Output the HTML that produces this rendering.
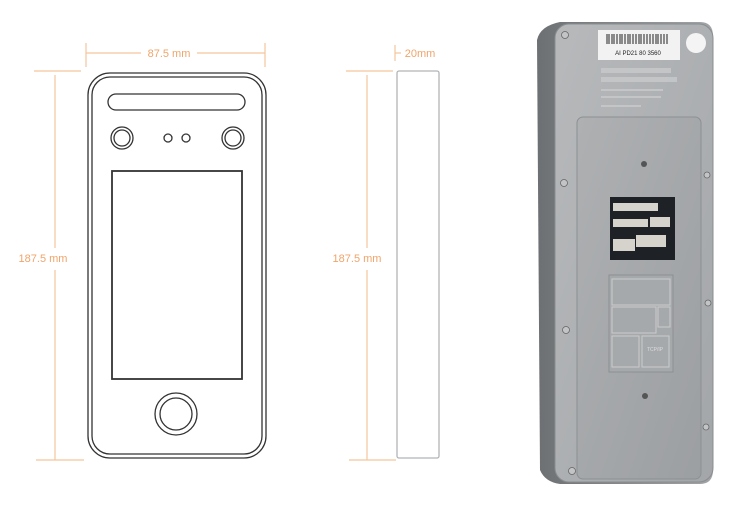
<!DOCTYPE html>
<html><head><meta charset="utf-8"><style>
html,body{margin:0;padding:0;background:#fff;}
svg{display:block;}
text{font-family:"Liberation Sans",sans-serif;}
</style></head><body>
<svg width="750" height="521" viewBox="0 0 750 521" xmlns="http://www.w3.org/2000/svg">
<defs>
<linearGradient id="side" x1="0" x2="1" y1="0" y2="0">
<stop offset="0" stop-color="#6d7073"/><stop offset="1" stop-color="#a2a5a8"/></linearGradient>
<linearGradient id="face" x1="0" x2="1" y1="0" y2="1">
<stop offset="0" stop-color="#b7b9bb"/><stop offset="1" stop-color="#a3a6a9"/></linearGradient>
<linearGradient id="plate" x1="0" x2="1" y1="0" y2="1">
<stop offset="0" stop-color="#aeb0b2"/><stop offset="1" stop-color="#9c9fa2"/></linearGradient>
</defs>
<!-- front view dims -->
<g stroke="#f3c59c" stroke-width="1.2" fill="none">
<line x1="86" y1="43" x2="86" y2="67"/><line x1="265" y1="43" x2="265" y2="67"/>
<line x1="86" y1="53" x2="141" y2="53"/><line x1="197" y1="53" x2="265" y2="53"/>
<line x1="34" y1="71" x2="81" y2="71"/><line x1="36" y1="460" x2="84" y2="460"/>
<line x1="55" y1="75" x2="55" y2="248"/><line x1="55" y1="270" x2="55" y2="460"/>
<line x1="395" y1="45" x2="395" y2="61"/><line x1="395" y1="53" x2="401" y2="53"/>
<line x1="346" y1="71" x2="393" y2="71"/><line x1="349" y1="460" x2="396" y2="460"/>
<line x1="367" y1="75" x2="367" y2="248"/><line x1="367" y1="270" x2="367" y2="460"/>
</g>
<g fill="#f0a46a" font-size="11">
<text x="169" y="57" text-anchor="middle">87.5 mm</text>
<text x="43" y="262" text-anchor="middle">187.5 mm</text>
<text x="357" y="262" text-anchor="middle">187.5 mm</text>
<text x="420" y="57" text-anchor="middle">20mm</text>
</g>
<!-- front device -->
<g fill="none" stroke="#333" stroke-width="1.3">
<rect x="88" y="73" width="178" height="385" rx="22"/>
<rect x="92" y="77" width="170" height="377" rx="18"/>
<rect x="108" y="94" width="137" height="16" rx="8"/>
<rect x="112" y="171" width="130" height="208" stroke-width="1.8"/>
<circle cx="122" cy="138" r="11"/><circle cx="122" cy="138" r="8"/>
<circle cx="233" cy="138" r="11"/><circle cx="233" cy="138" r="8"/>
<circle cx="168" cy="138" r="4"/><circle cx="186" cy="138" r="4"/>
<circle cx="176" cy="414" r="21"/><circle cx="176" cy="414" r="16"/>
</g>
<!-- side view -->
<rect x="397" y="71" width="42" height="387" rx="2" fill="#fff" stroke="#b0b3b6" stroke-width="1.3"/>
<!-- photo -->
<path d="M560 22 L700 22 Q713 22 713 36 L713 470 Q713 484 700 484 L560 484 Q545 482 540 470 L537 40 Q540 26 560 22Z" fill="url(#side)"/>
<rect x="555" y="24" width="158" height="458" rx="14" fill="url(#face)" stroke="#8a8d90"/>
<rect x="598" y="30" width="82" height="30" fill="#f2f2f2"/>
<g stroke="#222" stroke-width="1">
<path d="M607 34v10M609 34v10M612 34v10M614 34v10M617 34v10M620 34v10M622 34v10M625 34v10M628 34v10M630 34v10M633 34v10M636 34v10M639 34v10M641 34v10M644 34v10M647 34v10M650 34v10M653 34v10M656 34v10M658 34v10M661 34v10M664 34v10M667 34v10"/>
</g>
<text x="638" y="55" font-size="6" text-anchor="middle" fill="#222">AI PD21 80 3560</text>
<circle cx="696" cy="43" r="10" fill="#f4f4f4"/>
<g fill="#c8cacc" opacity="0.8">
<rect x="601" y="68" width="70" height="5"/><rect x="601" y="77" width="76" height="5"/>
<rect x="601" y="89" width="62" height="2"/><rect x="601" y="96" width="60" height="2"/><rect x="601" y="105" width="40" height="2"/>
</g>
<rect x="577" y="117" width="124" height="362" rx="6" fill="url(#plate)" stroke="#8d9093"/>
<rect x="610" y="197" width="65" height="63" fill="#1e2226"/>
<g fill="#d6d3cc">
<rect x="613" y="203" width="45" height="8"/><rect x="613" y="219" width="35" height="8"/><rect x="650" y="217" width="20" height="10"/>
<rect x="613" y="239" width="22" height="12"/><rect x="636" y="235" width="30" height="12"/>
</g>
<rect x="609" y="275" width="64" height="97" fill="#a6a9ac" stroke="#8d9093"/>
<g fill="none" stroke="#c9cbcd" stroke-width="1">
<rect x="612" y="279" width="58" height="26"/><rect x="612" y="307" width="44" height="26"/><rect x="658" y="307" width="12" height="20"/>
<rect x="612" y="336" width="27" height="31"/><rect x="642" y="336" width="27" height="31"/>
</g>
<text x="655" y="351" font-size="5" fill="#dcdcdc" text-anchor="middle">TCP/IP</text>
<g fill="#555"><circle cx="644" cy="164" r="3"/><circle cx="645" cy="396" r="3"/></g>
<g fill="#c2c4c6" stroke="#666" stroke-width="0.8">
<circle cx="565" cy="35" r="3.5"/><circle cx="564" cy="183" r="3.5"/><circle cx="566" cy="330" r="3.5"/><circle cx="572" cy="471" r="3.5"/>
<circle cx="707" cy="175" r="3"/><circle cx="708" cy="303" r="3"/><circle cx="706" cy="427" r="3"/>
</g>
</svg>
</body></html>
